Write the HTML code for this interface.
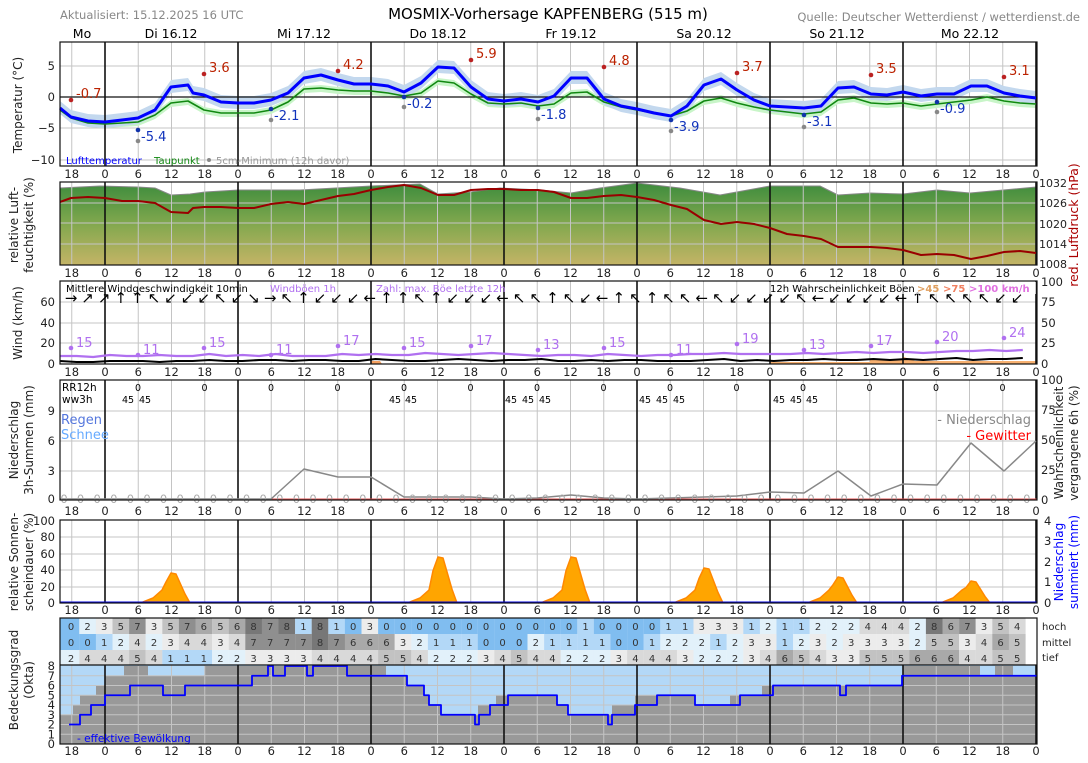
<!DOCTYPE html>
<html><head><meta charset="utf-8"><style>
html,body{margin:0;padding:0;background:#fff;}
svg{display:block;font-family:"DejaVu Sans","Liberation Sans",sans-serif;}
</style></head><body>
<svg id="s" width="1088" height="763" xmlns="http://www.w3.org/2000/svg"></svg>
<script>
var S=document.getElementById('s'),out='';
function X(h){return 105+h*133/24;}
function L(x1,y1,x2,y2,c,w){out+='<line x1="'+x1+'" y1="'+y1+'" x2="'+x2+'" y2="'+y2+'" stroke="'+c+'" stroke-width="'+(w||1)+'"/>';}
function R(x,y,w,h,f,extra){out+='<rect x="'+x+'" y="'+y+'" width="'+w+'" height="'+h+'" fill="'+f+'" '+(extra||'')+'/>';}
function T(x,y,t,o){o=o||{};out+='<text x="'+x+'" y="'+y+'" font-size="'+(o.s||11)+'" fill="'+(o.c||'#222')+'" text-anchor="'+(o.a||'start')+'"'+(o.r?' transform="rotate('+o.r+' '+x+' '+y+')"':'')+(o.w?' font-weight="bold"':'')+'>'+t+'</text>';}
function P(pts,c,w,fill){out+='<polyline points="'+pts.map(function(p){return p[0]+','+p[1]}).join(' ')+'" fill="'+(fill||'none')+'" stroke="'+c+'" stroke-width="'+w+'" stroke-linejoin="round"/>';}
function G(pts,f,op){out+='<polygon points="'+pts.map(function(p){return p[0]+','+p[1]}).join(' ')+'" fill="'+f+'"'+(op?' fill-opacity="'+op+'"':'')+'/>';}
var x0=60,x1=1037;
function grid(top,bot,hy){for(var h=-6;h<=168;h+=6){var x=X(h);if(h%24==0)continue;L(x,top,x,bot,'#c4c4c4',1);}hy.forEach(function(y){L(x0,y,x1,y,'#c4c4c4',1);});}
function mids(top,bot){for(var h=0;h<=168;h+=24){L(X(h),top,X(h),bot,'#111',1.6);}}
function box(top,bot){R(x0,top,x1-x0,bot-top,'none','stroke="#111" stroke-width="1.2"');}
function ticks(y){for(var h=-6;h<=168;h+=6){var v=((h%24)+24)%24;T(X(h),y,v,{a:'middle',s:11.5});}}
// header
T(60,19,'Aktualisiert: 15.12.2025 16 UTC',{c:'#888',s:11.5});
T(548,19,'MOSMIX-Vorhersage KAPFENBERG (515 m)',{s:15,a:'middle',c:'#000'});
T(1080,21,'Quelle: Deutscher Wetterdienst / wetterdienst.de',{c:'#888',a:'end',s:11.5});
[['Mo',82],['Di 16.12',171],['Mi 17.12',304],['Do 18.12',438],['Fr 19.12',571],['Sa 20.12',704],['So 21.12',837],['Mo 22.12',970]].forEach(function(d){T(d[1],38,d[0],{s:12.5,a:'middle',c:'#000'});});
// ===== Temperature panel 42-166
grid(42,166,[66,128,160]);
var tb=[[60,108],[71,117],[88,121],[105,122],[122,120],[138,118],[155,110],[171,87],[188,85],[193,93],[204,95],[221,102],[238,103],[254,103],[271,100],[288,93],[304,78],[321,75],[338,80],[354,84],[371,84],[388,86],[404,92],[421,83],[438,67],[454,68],[471,87],[488,99],[504,101],[521,99],[538,102],[554,96],[571,78],[587,78],[604,99],[621,106],[637,109],[654,113],[671,116],[687,106],[704,85],[721,79],[737,90],[754,100],[770,106],[787,107],[804,108],[821,106],[838,88],[854,87],[871,94],[887,95],[903,92],[921,96],[937,94],[954,94],[971,86],[987,86],[1004,93],[1020,96],[1036,98]];
var tg=[[60,110],[71,118],[88,123],[105,124],[122,123],[138,122],[155,115],[171,103],[188,101],[204,110],[221,113],[238,113],[254,113],[271,110],[288,102],[304,89],[321,88],[338,90],[354,91],[371,91],[388,93],[404,96],[421,93],[438,81],[454,83],[471,94],[488,103],[504,104],[521,103],[538,106],[554,104],[571,93],[587,92],[604,102],[621,107],[637,110],[654,113],[671,116],[687,111],[704,101],[721,98],[737,103],[754,107],[770,110],[787,112],[804,114],[821,112],[838,100],[854,98],[871,103],[887,104],[903,103],[921,106],[937,104],[954,102],[971,100],[987,97],[1004,101],[1020,103],[1036,104]];
function band(a,d1,d2,f){var p=a.map(function(q){return [q[0],q[1]-d1]});var r=a.slice().reverse().map(function(q){return [q[0],q[1]+d2]});G(p.concat(r),f);}
band(tg,3,4,'#c8f5c8');band(tb,7,6,'#c3d8ee');
L(x0,97,x1,97,'#111',1.2);
mids(42,166);
P(tg,'#118811',1.6);P(tb,'#0000ff',3);
[[71,100,'-0.7'],[204,74,'3.6'],[338,71,'4.2'],[471,60,'5.9'],[604,67,'4.8'],[737,73,'3.7'],[871,75,'3.5'],[1004,77,'3.1']].forEach(function(m){out+='<circle cx="'+m[0]+'" cy="'+m[1]+'" r="2.3" fill="#b22"/>';T(m[0]+5,m[1]-2,m[2],{s:13,c:'#bb2200'});});
[[138,130,141,'-5.4'],[271,109,120,'-2.1'],[404,97,107,'-0.2'],[538,108,119,'-1.8'],[671,120,131,'-3.9'],[804,115,127,'-3.1'],[937,102,112,'-0.9']].forEach(function(m){out+='<circle cx="'+m[0]+'" cy="'+m[1]+'" r="2.3" fill="#1133aa"/><circle cx="'+m[0]+'" cy="'+m[2]+'" r="2.3" fill="#888"/>';T(m[0]+3,m[1]+11,m[3],{s:13,c:'#1133bb'});});
T(66,164,'Lufttemperatur',{s:10,c:'#0000ff'});T(154,164,'Taupunkt',{s:10,c:'#118811'});
out+='<circle cx="209" cy="160" r="2" fill="#888"/>';T(216,164,'5cm-Minimum (12h davor)',{s:10,c:'#999'});
box(42,166);
[[5,66],[0,97],['\u221210',160],['\u22125',128]].forEach(function(t){T(55,t[1]+4,t[0],{a:'end',s:11.5});});
ticks(178);
T(22,105,'Temperatur (°C)',{a:'middle',r:-90,s:12});
// ===== Humidity panel 182-265
out+='<defs><linearGradient id="hg" x1="0" y1="0" x2="0" y2="1"><stop offset="0" stop-color="#3d8c3d"/><stop offset="0.5" stop-color="#82a84e"/><stop offset="1" stop-color="#c4b466"/></linearGradient></defs>';
var hu=[[60,188],[100,186],[138,187],[155,188],[171,195],[190,194],[205,192],[238,190],[300,190],[371,186],[420,184],[438,194],[470,192],[500,188],[540,190],[571,193],[600,188],[637,183],[680,188],[720,195],[770,186],[820,186],[838,195],[870,193],[903,194],[937,190],[970,193],[1036,187]];
G([[60,265]].concat(hu,[[1036,265]]),'url(#hg)');
P(hu,'#888',1);
grid(182,265,[203,223,244]);mids(182,265);
var pr=[[60,202],[71,198],[88,197],[105,198],[122,201],[138,201],[155,203],[171,212],[188,213],[193,208],[204,207],[221,207],[238,208],[254,208],[271,204],[288,202],[304,204],[321,200],[338,196],[354,194],[371,190],[388,187],[404,185],[421,188],[438,195],[454,195],[471,190],[488,189],[504,189],[521,190],[538,190],[554,192],[571,198],[587,198],[604,196],[621,195],[637,197],[654,200],[671,205],[687,209],[704,220],[721,224],[737,222],[754,224],[770,228],[787,234],[804,236],[821,239],[838,247],[854,247],[871,247],[887,248],[903,250],[921,255],[937,254],[954,255],[971,259],[987,256],[1004,252],[1020,251],[1036,253]];
P(pr,'#990000',2);
box(182,265);
[[1032,183],[1026,203],[1020,224],[1014,244],[1008,264]].forEach(function(t){T(1039,t[1]+4,t[0],{s:11});});
ticks(277);
T(18,225,'relative Luft-',{a:'middle',r:-90,s:12});T(33,225,'feuchtigkeit (%)',{a:'middle',r:-90,s:12});
T(1078,225,'red. Luftdruck (hPa)',{a:'middle',r:-90,c:'#aa0000',s:12.5});
// ===== Wind panel 281-364
grid(281,364,[302,323,343]);
G([[370,364],[372,361],[380,361],[382,364]],'#f5a060');
G([[770,364],[770,362],[870,362],[870,360],[900,360],[904,357],[915,361],[1036,361],[1036,364]],'#f7b070');
mids(281,364);
var pu=[],bk=[];
var pv=[356,356,357,355,356,356,355,356,356,354,356,355,356,354,356,356,356,354,355,354,355,355,353,354,355,354,353,354,355,356,355,355,356,354,355,356,355,355,354,354,353,354,354,354,354,353,354,353,352,353,352,352,353,352,351,351,350,351,350,349,350];
var bv=[361,362,362,361,361,361,362,361,361,360,361,361,360,360,361,360,360,361,361,359,360,361,361,360,359,360,361,360,360,359,361,361,360,361,360,360,361,361,361,360,359,361,360,361,360,360,359,360,360,359,360,359,360,359,358,360,359,359,358,358,358];
for(var i=0;i<=58;i++){var x=60+i*16.6;pu.push([x,pv[i]]);bk.push([x,bv[i]]);}
P(pu,'#b070f0',2.2);P(bk,'#000',2);
[[71,348,15],[138,355,11],[204,348,15],[271,355,11],[338,346,17],[404,348,15],[471,346,17],[538,350,13],[604,348,15],[671,355,11],[737,344,19],[804,350,13],[871,346,17],[937,342,20],[1004,338,24]].forEach(function(m){out+='<circle cx="'+m[0]+'" cy="'+m[1]+'" r="2.3" fill="#b070f0"/>';T(m[0]+5,m[1]-1,m[2],{s:13,c:'#b070f0'});});
var arr='→↗↗↑↑↖↙↙↙↖↙↘→↖↑↙↙↙←↑↑↖↑↙↙↙←↖↖↑↖↙←↑↖↑↖↖←↖↙↙↙↙↖←↙↙↙↙←↑↖↖↖↖↙↙↙↙↖←←↙↙↙←';
for(var i=0;i<58;i++){T(71+i*16.6,303,arr[i],{s:15,a:'middle',c:'#000'});}
T(66,292,'Mittlere Windgeschwindigkeit 10min',{s:10,c:'#000'});
T(270,292,'Windböen 1h',{s:10,c:'#b070f0'});T(376,292,'Zahl: max. Böe letzte 12h',{s:10,c:'#b070f0'});
R(768,282,268,12,'#fff','fill-opacity="0.7"');
T(770,292,'12h Wahrscheinlichkeit Böen',{s:10,c:'#000'});
T(917,292,'>45',{s:10,c:'#e0a060',w:1});T(943,292,'>75',{s:10,c:'#f08060',w:1});T(969,292,'>100 km/h',{s:10,c:'#e070e0',w:1});
box(281,364);
[[0,364],[20,343],[40,323],[60,302]].forEach(function(t){T(55,t[1]+4,t[0],{a:'end',s:11.5});});
[[100,282],[75,302],[50,323],[25,343],[0,364]].forEach(function(t){T(1041,t[1]+4,t[0],{s:11.5});});
ticks(376);
T(22,323,'Wind (km/h)',{a:'middle',r:-90,s:12});
// ===== Precip panel 380-500
grid(380,500,[411,441,471]);mids(380,500);
L(x0,499,x1,499,'#e05050',1);
var pp=[[60,499],[271,499],[304,469],[338,477],[371,477],[404,497],[438,497],[471,497],[504,499],[537,498],[571,495],[604,498],[637,499],[671,498],[704,497],[737,496],[770,492],[804,493],[838,471],[871,496],[903,484],[937,485],[971,443],[1004,471],[1036,441]];
P(pp,'#888',1.5);
for(var i=0;i<59;i++){T(64+i*16.6,503,'0',{s:11.5,a:'middle',c:'#aaa'});}
T(62,391,'RR12h',{s:10.5,c:'#000'});T(62,403,'ww3h',{s:10.5,c:'#000'});
for(var k=0;k<14;k++){T(138+k*66.5,391,'0',{s:9.5,a:'middle',c:'#000'});}
[128,145,395,411,511,528,545,645,662,679,779,796,812].forEach(function(x){T(x,403,'45',{s:9.5,a:'middle',c:'#000'});});
T(61,424,'Regen',{s:13,c:'#5577dd'});T(61,439,'Schnee',{s:13,c:'#66aaff'});
T(1031,424,'- Niederschlag',{s:13,c:'#888',a:'end'});T(1031,440,'- Gewitter',{s:13,c:'#ff0000',a:'end'});
box(380,500);
[[9,411],[6,441],[3,471],[0,499]].forEach(function(t){T(55,t[1]+4,t[0],{a:'end',s:11.5});});
[[100,380],[75,410],[50,440],[25,470],[0,500]].forEach(function(t){T(1041,t[1]+4,t[0],{s:11.5});});
ticks(515);
T(18,440,'Niederschlag',{a:'middle',r:-90,s:12});T(33,440,'3h-Summen (mm)',{a:'middle',r:-90,s:12});
T(1063,443,'Wahrscheinlichkeit',{a:'middle',r:-90,s:12});T(1078,443,'vergangene 6h (%)',{a:'middle',r:-90,s:12});
// ===== Sunshine 520-603
grid(520,603,[537,554,570,587]);mids(520,603);
[[171,573],[438,557],[571,557],[704,568],[838,577],[971,581]].forEach(function(d){var c=d[0],p=d[1],hgt=603-p;var pts=[[c-33,603],[c-28,602],[c-18,598],[c-9,590],[c-5,603-hgt*0.7],[c,p],[c+5,p+1],[c+14,603-hgt*0.3],[c+19,603]];G(pts,'#ffa500');P(pts,'#ff8800',1.5);});
L(x0,602.5,x1,602.5,'#0000dd',2);
box(520,603);
[[100,521],[80,537],[60,554],[40,570],[20,587],[0,603]].forEach(function(t){T(55,t[1]+4,t[0],{a:'end',s:11.5});});
[[4,521],[3,541],[2,562],[1,582],[0,603]].forEach(function(t){T(1044,t[1]+4,t[0],{s:11.5});});
ticks(614);
T(18,562,'relative Sonnen-',{a:'middle',r:-90,s:12});T(33,562,'scheindauer (%)',{a:'middle',r:-90,s:12});
T(1063,562,'Niederschlag',{a:'middle',r:-90,c:'#0000ff',s:12});T(1078,562,'summiert (mm)',{a:'middle',r:-90,c:'#0000ff',s:12});
// ===== Cloud table 618-665
var hoch=[0,2,3,5,7,3,5,7,6,5,6,8,7,8,1,8,1,0,3,0,0,0,0,0,0,0,0,0,0,0,0,1,0,0,0,0,1,1,3,3,3,1,2,1,1,2,2,2,4,4,4,2,8,6,7,3,5,4];
var mit=[0,0,1,2,4,2,3,4,4,3,4,7,7,7,7,8,7,6,6,6,3,2,1,1,1,0,0,0,2,1,1,1,1,0,0,1,2,2,2,1,2,3,3,1,2,3,2,3,3,3,3,2,5,5,3,4,6,5];
var tief=[2,4,4,4,5,4,1,1,1,2,2,3,3,3,3,4,4,4,4,5,5,4,2,2,2,3,4,5,4,4,2,2,2,3,4,4,4,3,2,2,2,3,4,6,5,4,3,3,5,5,5,6,6,6,4,4,5,5];
var cc=['#80bdf0','#b3d8f7','#e2f1fa','#ececec','#d9d9d9','#c2c2c2','#a9a9a9','#8f8f8f','#777'];
[[hoch,618],[mit,634],[tief,650]].forEach(function(r){for(var i=0;i<58;i++){var x=62.7+i*16.6;var w=16.7;if(i==0){x=60;w=19.4;}if(x+w>1037)w=1037-x;R(x,r[1],w,16,cc[r[0][i]]);T(71+i*16.6,r[1]+12,r[0][i],{s:10,a:'middle',c:'#333'});}});
T(1042,630,'hoch',{s:10});T(1042,646,'mittel',{s:10});T(1042,661,'tief',{s:10});
// cloud chart 665-744
function oy(o){return 744-o*9.75;}
R(x0,665,x1-x0,79,'#b3d8f7');
var gt=[[60,3],[73,4],[80,5],[96,6],[105,7],[124,8],[148,7],[205,8],[386,7],[407,6],[424,5],[429,4],[441,3],[478,4],[496,5],[508,5],[557,4],[568,3],[612,4],[635,5],[695,4],[730,5],[762,6],[856,6],[903,8],[923,8],[980,7],[995,8],[1013,7]];
for(var i=0;i<gt.length;i++){var xa=gt[i][0],xb=i+1<gt.length?gt[i+1][0]:1037;R(xa,oy(gt[i][1]),xb-xa,oy(0)-oy(gt[i][1]),'#999');}
for(var o=1;o<8;o++)L(x0,oy(o),x1,oy(o),'#c4c4c4',1);
for(var h=-6;h<=168;h+=6){if(h%24)L(X(h),665,X(h),744,'#c4c4c4',1);}
mids(665,744);
var ef=[[69,2],[80,3],[91,4],[105,5],[130,6],[163,5],[185,6],[252,7],[268,8],[273,7],[285,8],[307,7],[313,8],[347,7],[407,6],[424,5],[429,4],[441,3],[475,2],[479,3],[490,4],[508,5],[557,4],[568,3],[608,2],[612,3],[635,4],[657,5],[695,4],[740,5],[773,6],[840,5],[846,6],[902,7],[1037,7]];
var ep=[];for(var i=0;i<ef.length;i++){ep.push([ef[i][0],oy(ef[i][1])]);if(i+1<ef.length)ep.push([ef[i+1][0],oy(ef[i][1])]);}
P(ep,'#0000ff',1.8);
T(77,742,'- effektive Bewölkung',{s:10.5,c:'#0000ff'});
L(x0,665,x1,665,'#111',1.2);
R(x0,618,x1-x0,126,'none','stroke="#111" stroke-width="1.2"');
for(var o=0;o<=8;o++)T(55,oy(o)+4,o,{a:'end',s:11.5});
ticks(755);
T(18,680,'Bedeckungsgrad',{a:'middle',r:-90,s:12});T(33,680,'(Okta)',{a:'middle',r:-90,s:12});
S.innerHTML=out;
</script>
</body></html>
